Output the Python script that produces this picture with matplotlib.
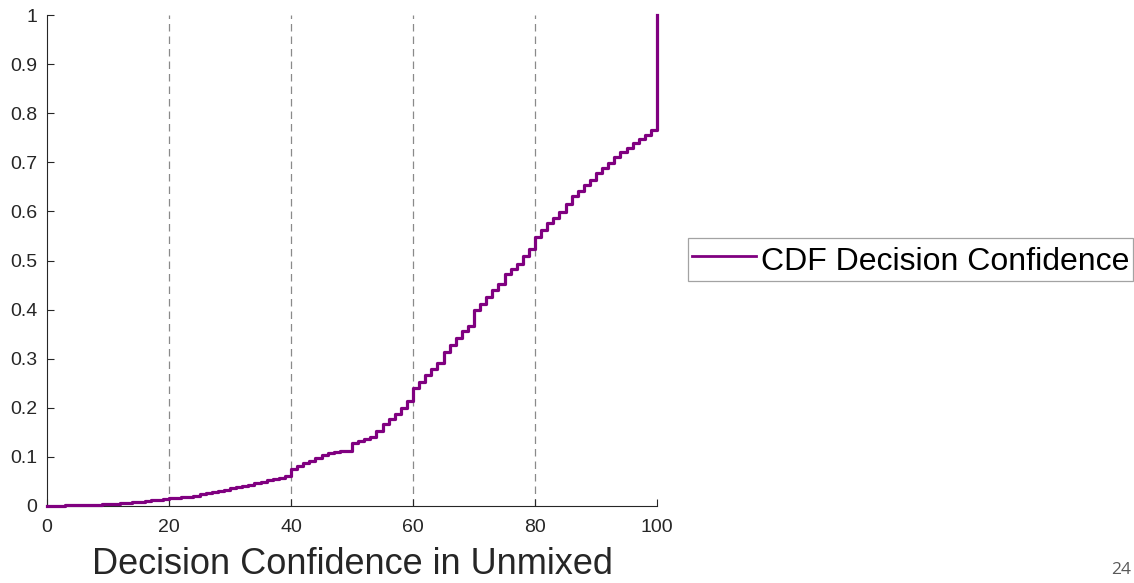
import matplotlib
matplotlib.use("Agg")
import matplotlib.pyplot as plt
import numpy as np

# Empirical CDF of decision confidence (value at each integer confidence level)
confidence = list(range(0, 101))
cdf_values = [
    0.000, 0.001, 0.001, 0.002, 0.002, 0.002, 0.003, 0.003, 0.003, 0.004,
    0.004, 0.005, 0.006, 0.007, 0.008, 0.009, 0.010, 0.012, 0.013, 0.014,
    0.017, 0.017, 0.018, 0.019, 0.021, 0.025, 0.027, 0.028, 0.030, 0.032,
    0.036, 0.038, 0.040, 0.043, 0.046, 0.049, 0.052, 0.055, 0.058, 0.061,
    0.075, 0.081, 0.087, 0.092, 0.098, 0.103, 0.108, 0.110, 0.111, 0.112,
    0.129, 0.132, 0.136, 0.141, 0.152, 0.167, 0.177, 0.187, 0.199, 0.213,
    0.240, 0.252, 0.266, 0.279, 0.292, 0.313, 0.328, 0.343, 0.356, 0.367,
    0.399, 0.411, 0.425, 0.439, 0.452, 0.472, 0.483, 0.493, 0.509, 0.523,
    0.547, 0.562, 0.576, 0.586, 0.598, 0.616, 0.632, 0.642, 0.654, 0.663,
    0.679, 0.689, 0.698, 0.711, 0.720, 0.730, 0.740, 0.747, 0.756, 0.765,
    1.000,
]
x_ticks = [0, 20, 40, 60, 80, 100]
y_ticks = [0, 0.1, 0.2, 0.3, 0.4, 0.5, 0.6, 0.7, 0.8, 0.9, 1]
y_tick_labels = ["0", "0.1", "0.2", "0.3", "0.4", "0.5", "0.6", "0.7", "0.8", "0.9", "1"]
grid_x = [20, 40, 60, 80]

plt.rcParams["font.family"] = ["Liberation Sans", "DejaVu Sans"]
W, H = 1134, 583
fig = plt.figure(figsize=(W / 100, H / 100), dpi=100)
ax = fig.add_axes([47 / W, 1 - 506 / H, (657 - 47) / W, (506 - 15) / H])

for gx in grid_x:
    ax.axvline(gx, color="#8a8a8a", lw=0.9, linestyle=(0, (6, 4)), zorder=1)

ax.step(confidence, cdf_values, where="post", color="#800080", lw=2.3,
        label="CDF Decision Confidence", zorder=3, clip_on=False)

ax.set_xlim(0, 100)
ax.set_ylim(0, 1)
ax.set_xticks(x_ticks)
ax.set_yticks(y_ticks)
ax.set_yticklabels(y_tick_labels)
ax.tick_params(direction="in", length=5, width=0.8, colors="#262626",
               labelsize=14, pad=7)
ax.tick_params(axis="x", pad=9)
for side in ("top", "right"):
    ax.spines[side].set_visible(False)
for side in ("left", "bottom"):
    ax.spines[side].set_color("#262626")
    ax.spines[side].set_linewidth(0.8)

ax.set_xlabel("Decision Confidence in Unmixed", fontsize=26, color="#262626",
              labelpad=8)

leg = fig.legend(loc="center left", bbox_to_anchor=(688 / W, 1 - 259.5 / H),
                 bbox_transform=fig.transFigure, fontsize=23, frameon=True,
                 fancybox=False, handlelength=2.0, handletextpad=0.15,
                 handleheight=1.35, borderpad=0.12, borderaxespad=0)
leg.get_frame().set_edgecolor("#8c8c8c")
leg.get_frame().set_linewidth(0.9)
for line in leg.get_lines():
    line.set_linewidth(2)

fig.text(1121 / W, 1 - 570 / H, "24", fontsize=12.5, color="#595959",
         family=["Open Sans", "DejaVu Sans"], ha="center", va="center")

fig.savefig("out.png", dpi=100)
